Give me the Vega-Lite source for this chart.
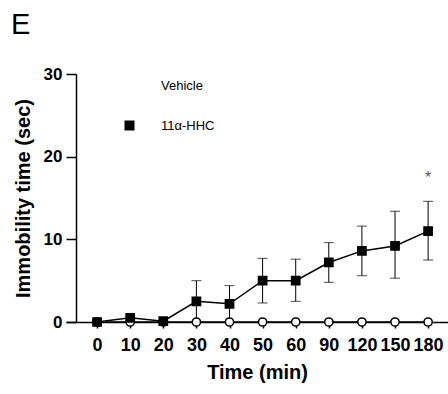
{
  "$schema": "https://vega.github.io/schema/vega-lite/v6.json",
  "autosize": {"type": "none"},
  "width": 382,
  "height": 248,
  "padding": {"left": 66, "top": 74, "right": 0, "bottom": 72},
  "background": "white",
  "title": {"text": "E", "anchor": "start", "frame": "group", "font": "Liberation Sans", "fontSize": 29, "fontWeight": "normal", "color": "black", "baseline": "alphabetic", "dx": -55, "dy": 28, "offset": 30},
  "config": {"view": {"stroke": null}},
  "data": {"values": [
    {"group": "Vehicle", "time": "0", "mean": 0},
    {"group": "Vehicle", "time": "10", "mean": 0},
    {"group": "Vehicle", "time": "20", "mean": 0},
    {"group": "Vehicle", "time": "30", "mean": 0},
    {"group": "Vehicle", "time": "40", "mean": 0},
    {"group": "Vehicle", "time": "50", "mean": 0},
    {"group": "Vehicle", "time": "60", "mean": 0},
    {"group": "Vehicle", "time": "90", "mean": 0},
    {"group": "Vehicle", "time": "120", "mean": 0},
    {"group": "Vehicle", "time": "150", "mean": 0},
    {"group": "Vehicle", "time": "180", "mean": 0},
    {"group": "11α-HHC", "time": "0", "mean": 0},
    {"group": "11α-HHC", "time": "10", "mean": 0.5},
    {"group": "11α-HHC", "time": "20", "mean": 0.1},
    {"group": "11α-HHC", "time": "30", "mean": 2.5, "lo": 0, "hi": 5.0},
    {"group": "11α-HHC", "time": "40", "mean": 2.2, "lo": 0, "hi": 4.4},
    {"group": "11α-HHC", "time": "50", "mean": 5.0, "lo": 2.3, "hi": 7.7},
    {"group": "11α-HHC", "time": "60", "mean": 5.0, "lo": 2.5, "hi": 7.6},
    {"group": "11α-HHC", "time": "90", "mean": 7.2, "lo": 4.8, "hi": 9.6},
    {"group": "11α-HHC", "time": "120", "mean": 8.6, "lo": 5.6, "hi": 11.6},
    {"group": "11α-HHC", "time": "150", "mean": 9.2, "lo": 5.3, "hi": 13.4},
    {"group": "11α-HHC", "time": "180", "mean": 11.0, "lo": 7.5, "hi": 14.6, "sig": "*"}
  ]},
  "encoding": {
    "x": {
      "field": "time", "type": "ordinal",
      "sort": ["0", "10", "20", "30", "40", "50", "60", "90", "120", "150", "180"],
      "scale": {"type": "point", "padding": 0.77, "align": 0.61},
      "axis": {
        "title": "Time (min)", "labelAngle": 0,
        "domainColor": "black", "domainWidth": 1.5, "tickColor": "black", "tickWidth": 1.5, "tickSize": 6,
        "labelFont": "Liberation Sans", "labelFontSize": 18, "labelFontWeight": "bold", "labelColor": "black", "labelPadding": 8,
        "titleFont": "Liberation Sans", "titleFontSize": 20, "titleFontWeight": "bold", "titleColor": "black", "titlePadding": 8
      }
    }
  },
  "layer": [
    {
      "mark": {"type": "line", "color": "black", "strokeWidth": 1.5},
      "encoding": {
        "y": {
          "field": "mean", "type": "quantitative",
          "scale": {"domain": [0, 30], "nice": false, "zero": true},
          "axis": {
            "title": "Immobility time (sec)", "values": [0, 10, 20, 30], "grid": false, "offset": -10,
            "domainColor": "black", "domainWidth": 1.5, "tickColor": "black", "tickWidth": 1.5, "tickSize": 10,
            "labelFont": "Liberation Sans", "labelFontSize": 17, "labelFontWeight": "bold", "labelColor": "black", "labelPadding": 4,
            "titleFont": "Liberation Sans", "titleFontSize": 20, "titleFontWeight": "bold", "titleColor": "black", "titlePadding": 10
          }
        },
        "detail": {"field": "group"}
      }
    },
    {
      "transform": [{"filter": "isValid(datum.hi)"}],
      "mark": {"type": "rule", "color": "black", "strokeWidth": 1},
      "encoding": {"y": {"field": "lo", "type": "quantitative"}, "y2": {"field": "hi"}}
    },
    {
      "transform": [{"filter": "isValid(datum.hi)"}],
      "mark": {"type": "tick", "color": "black", "thickness": 1, "size": 10},
      "encoding": {"y": {"field": "hi", "type": "quantitative"}}
    },
    {
      "transform": [{"filter": "isValid(datum.hi)"}],
      "mark": {"type": "tick", "color": "black", "thickness": 1, "size": 10},
      "encoding": {"y": {"field": "lo", "type": "quantitative"}}
    },
    {
      "mark": {"type": "point", "filled": false, "stroke": "black", "strokeWidth": 1.5, "size": 68, "opacity": 1},
      "encoding": {
        "y": {"field": "mean", "type": "quantitative"},
        "fill": {
          "field": "group", "type": "nominal",
          "scale": {"domain": ["Vehicle", "11α-HHC"], "range": ["white", "black"]},
          "legend": {
            "title": null, "orient": "none", "legendX": 57, "legendY": 5, "direction": "vertical",
            "padding": 0, "symbolSize": 100, "labelOffset": 25, "rowPadding": 23,
            "labelFont": "Liberation Sans", "labelFontSize": 13, "labelColor": "black",
            "symbolStrokeColor": "black", "symbolStrokeWidth": 1.5, "symbolOpacity": 1
          }
        },
        "shape": {
          "field": "group", "type": "nominal",
          "scale": {"domain": ["Vehicle", "11α-HHC"], "range": ["circle", "square"]},
          "legend": {
            "title": null, "orient": "none", "legendX": 57, "legendY": 5, "direction": "vertical",
            "padding": 0, "symbolSize": 100, "labelOffset": 25, "rowPadding": 23,
            "labelFont": "Liberation Sans", "labelFontSize": 13, "labelColor": "black",
            "symbolStrokeColor": "black", "symbolStrokeWidth": 1.5, "symbolOpacity": 1
          }
        }
      }
    },
    {
      "transform": [{"filter": "isValid(datum.sig)"}],
      "mark": {"type": "text", "color": "#555", "font": "Liberation Sans", "fontSize": 16, "baseline": "alphabetic", "dy": -18},
      "encoding": {"y": {"field": "hi", "type": "quantitative"}, "text": {"field": "sig"}}
    }
  ]
}
